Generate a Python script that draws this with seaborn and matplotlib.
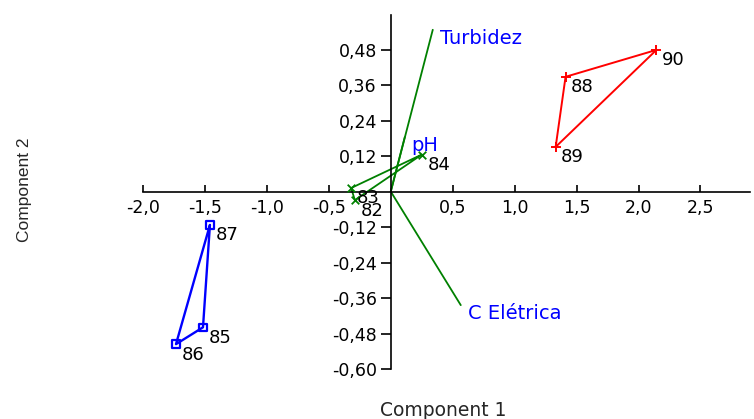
import matplotlib
matplotlib.use("Agg")
import matplotlib.pyplot as plt
import seaborn as sns
import pandas as pd
from matplotlib.ticker import FixedLocator, FuncFormatter

# ---- data ----
sample_ids = ["82", "83", "84", "85", "86", "87", "88", "89", "90"]
comp1 = [-0.29, -0.32, 0.25, -1.516, -1.734, -1.46, 1.411, 1.331, 2.145]
comp2 = [-0.029, 0.012, 0.125, -0.459, -0.516, -0.113, 0.388, 0.151, 0.479]
groups = ["G", "G", "G", "B", "B", "B", "R", "R", "R"]
hull_green = ["84", "83", "82"]
hull_blue = ["87", "85", "86"]
hull_red = ["88", "90", "89"]

variables = ["Turbidez", "pH", "C Elétrica"]
load1 = [0.339, 0.113, 0.565]
load2 = [0.547, 0.184, -0.384]

xticks = [-2.0, -1.5, -1.0, -0.5, 0.5, 1.0, 1.5, 2.0, 2.5]
yticks = [-0.60, -0.48, -0.36, -0.24, -0.12, 0.12, 0.24, 0.36, 0.48]

df = pd.DataFrame({"id": sample_ids, "c1": comp1, "c2": comp2, "grp": groups})

# ---- style ----
sns.set_style("white")
plt.rcParams["font.family"] = ["DejaVu Sans"]
plt.rcParams["axes.unicode_minus"] = False

fig = plt.figure(figsize=(7.54, 4.19), dpi=100)
ax = fig.add_axes([0.1897, 0.1193, 0.805, 0.8449])

colors = {"G": "#008000", "B": "#0000ff", "R": "#ff0000"}
hulls = {"G": hull_green, "B": hull_blue, "R": hull_red}
lw = {"G": 1.3, "B": 1.7, "R": 1.4}

# convex hull polygons
for g, order in hulls.items():
    sub = df.set_index("id").loc[order + [order[0]]]
    ax.plot(sub["c1"].values, sub["c2"].values, color=colors[g], lw=lw[g], zorder=2)

# markers
sns.scatterplot(data=df[df.grp == "R"], x="c1", y="c2", marker="+", s=45,
                color=colors["R"], linewidth=1.4, ax=ax, zorder=3, legend=False)
sns.scatterplot(data=df[df.grp == "G"], x="c1", y="c2", marker="x", s=30,
                color=colors["G"], linewidth=1.3, ax=ax, zorder=3, legend=False)
sns.scatterplot(data=df[df.grp == "B"], x="c1", y="c2", marker="s", s=30,
                facecolor="none", edgecolor=colors["B"], linewidth=1.6, ax=ax,
                zorder=3, legend=False)

# sample labels
for _, r in df.iterrows():
    ax.annotate(r["id"], (r["c1"], r["c2"]), xytext=(4, -1),
                textcoords="offset points", ha="left", va="top",
                fontsize=13, color="black", zorder=4)

# biplot vectors
for name, a, b in zip(variables, load1, load2):
    ax.plot([0, a], [0, b], color="#008000", lw=1.3, zorder=2)
    ax.annotate(name, (a, b), xytext=(5, -6), textcoords="offset points",
                ha="left", va="center", fontsize=14, color="#0000ff", zorder=4)

# axes through origin
ax.set_xlim(-2.0, 2.9)
ax.set_ylim(-0.60, 0.597)
for s in ["top", "right"]:
    ax.spines[s].set_visible(False)
ax.spines["left"].set_position(("data", 0))
ax.spines["bottom"].set_position(("data", 0))
for s in ["left", "bottom"]:
    ax.spines[s].set_color("black")
    ax.spines[s].set_linewidth(1.2)

ax.xaxis.set_major_locator(FixedLocator(xticks))
ax.yaxis.set_major_locator(FixedLocator(yticks))
ax.xaxis.set_major_formatter(FuncFormatter(lambda v, p: f"{v:.1f}".replace(".", ",")))
ax.yaxis.set_major_formatter(FuncFormatter(lambda v, p: f"{v:.2f}".replace(".", ",")))
ax.tick_params(axis="x", direction="in", length=5, width=1.2, pad=5,
               labelsize=12.5, colors="black", bottom=True)
ax.tick_params(axis="y", direction="out", length=7, width=1.2, pad=3,
               labelsize=12.5, colors="black", left=True)
ax.set_xlabel("")
ax.set_ylabel("")
ax.grid(False)

fig.text(443 / 754, 1 - 410 / 419, "Component 1", ha="center", va="center",
         fontsize=13.5)
fig.text(25 / 754, 1 - 190 / 419, "Component 2", ha="center", va="center",
         rotation=90, fontsize=12.5,
         family=["Liberation Sans Narrow", "Liberation Sans", "DejaVu Sans"])

fig.savefig("out.png", dpi=100)
